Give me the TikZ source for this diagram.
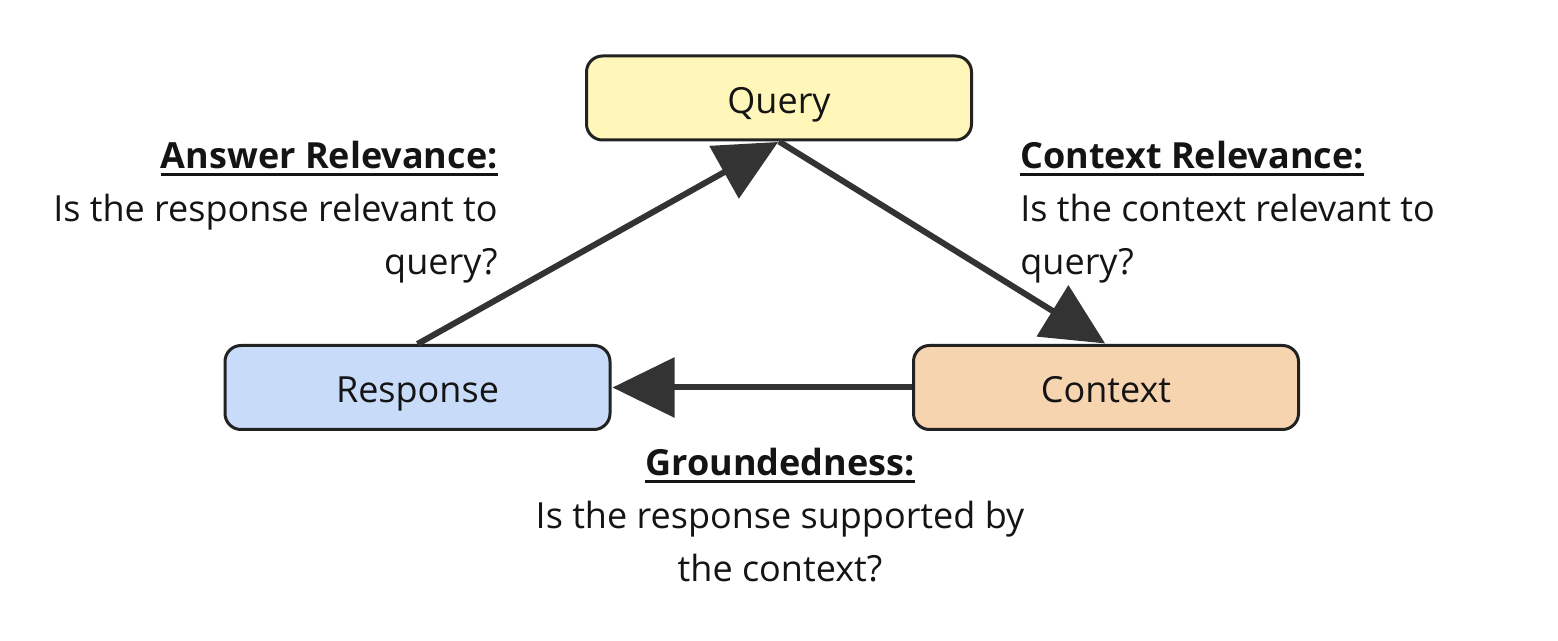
\documentclass[tikz,border=0pt]{standalone}
\usepackage{fontspec}
\setmainfont{Open Sans}
\usetikzlibrary{arrows.meta}
\definecolor{qfill}{HTML}{FFF6BA}
\definecolor{rfill}{HTML}{C8DCFA}
\definecolor{cfill}{HTML}{F7D4B0}
\definecolor{edge}{HTML}{222222}
\definecolor{arr}{HTML}{333333}
\definecolor{txt}{HTML}{141414}
\tikzset{
  box/.style={draw=edge, line width=1.5pt, rounded corners=8pt, minimum width=192.5pt, minimum height=42pt, inner sep=0pt, text=txt, font=\fontsize{18}{26}\selectfont, text height=15.5pt, text depth=0pt},
  conn/.style={draw=arr, line width=3pt, -{Triangle[length=31pt,width=29.5pt]}, shorten >=0.5pt},
  lbl/.style={inner sep=0pt, text=txt, font=\fontsize{18}{26.5}\selectfont},
}
\newcommand{\hdr}[1]{\setbox0\hbox{\textbf{#1}}\rlap{\rule[-3.6pt]{\wd0}{1.4pt}}\box0}
\begin{document}
\begin{tikzpicture}[x=0.5pt,y=-0.5pt]
\useasboundingbox[fill=white] (0,0) rectangle (1558,641);
\node[box, fill=qfill] (query) at (779,98) {Query};
\node[box, fill=rfill] (resp) at (417.5,387.5) {Response};
\node[box, fill=cfill] (ctx) at (1106,387.5) {Context};
\draw[conn] (resp.north) -- (query.south);
\draw[conn] (query.south) -- (ctx.north);
\draw[conn] (ctx.west) -- (resp.east);
\node[lbl, align=right, anchor=north east] (ar) at (498,141) {\hdr{Answer Relevance:}\\Is the response relevant to\\query?};
\node[lbl, align=left, anchor=north west] (cr) at (1020,141) {\hdr{Context Relevance:}\\Is the context relevant to\\query?};
\node[lbl, align=center, anchor=north] (gr) at (780,448) {\hdr{Groundedness:}\\Is the response supported by\\the context?};
\end{tikzpicture}
\end{document}
